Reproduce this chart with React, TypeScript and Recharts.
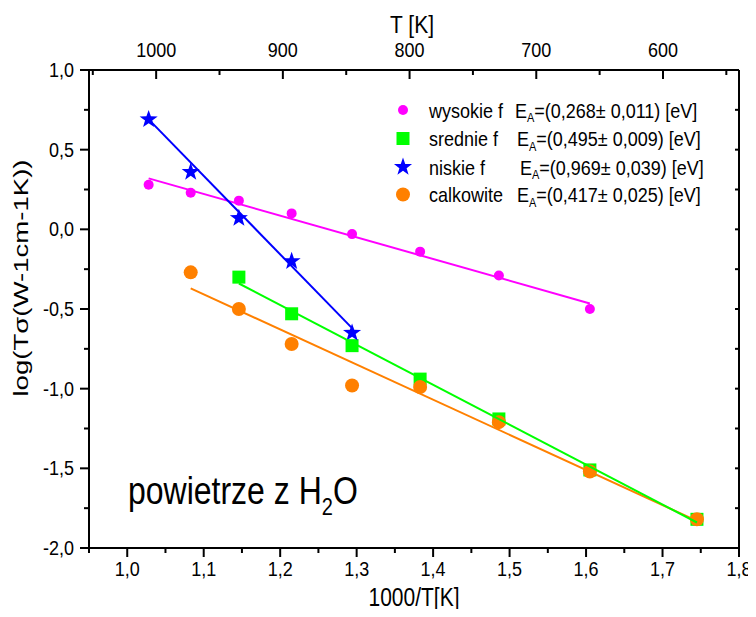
import { ScatterChart, Scatter, XAxis, YAxis, Customized } from 'recharts';

// 1000/T for the measured temperatures
const invT = [1.028, 1.083, 1.146, 1.215, 1.294, 1.383, 1.486, 1.605, 1.745];

// log(T*sigma) per frequency range
const wysokie = [0.28, 0.23, 0.18, 0.1, -0.03, -0.14, -0.29, -0.5]; // invT[0..7]
const niskie = [0.69, 0.36, 0.07, -0.2, -0.65]; // invT[0..4]
const srednie = [-0.3, -0.53, -0.73, -0.94, -1.19, -1.51, -1.82]; // invT[2..8]
const calkowite = [-0.27, -0.5, -0.72, -0.98, -0.99, -1.21, -1.52, -1.82]; // invT[1..8]

// fitted lines, start and end
const wysokieFitX = [1.028, 1.605];
const wysokieFitY = [0.32, -0.465];
const niskieFitX = [1.028, 1.294];
const niskieFitY = [0.69, -0.62];
const srednieFitX = [1.146, 1.745];
const srednieFitY = [-0.34, -1.84];
const calkowiteFitX = [1.083, 1.745];
const calkowiteFitY = [-0.37, -1.83];

const xTicks = [0.95, 1.0, 1.05, 1.1, 1.15, 1.2, 1.25, 1.3, 1.35, 1.4, 1.45, 1.5, 1.55, 1.6, 1.65, 1.7, 1.75, 1.8];
const yTicks = [-2, -1.75, -1.5, -1.25, -1, -0.75, -0.5, -0.25, 0, 0.25, 0.5, 0.75, 1];
// top axis (T in K) runs right-to-left, kept as negative numbers on the scale
const tTicks = [1050, 1000, 950, 900, 850, 800, 750, 700, 650, 600, 550];
const tDomain = [1053, 540];

const legendNames = ['wysokie f', 'srednie f', 'niskie f', 'calkowite'];
const legendEnergy = ['=(0,268± 0,011) [eV]', '=(0,495± 0,009) [eV]', '=(0,969± 0,039) [eV]', '=(0,417± 0,025) [eV]'];

const MAGENTA = '#ff00ff';
const GREEN = '#00ff00';
const BLUE = '#0000ff';
const ORANGE = '#ff8000';
const FONT = "'Liberation Sans', Arial, sans-serif";

const zip = (xs: number[], ys: number[]) => ys.map((y, i) => ({ x: xs[i], y }));

const wysokieData = zip(invT.slice(0, 8), wysokie);
const niskieData = zip(invT.slice(0, 5), niskie);
const srednieData = zip(invT.slice(2), srednie);
const calkowiteData = zip(invT.slice(1), calkowite);
// empty-looking series so the top axis has something bound to it
const tAxisData = tTicks.map((t) => ({ x: -t, y: 0 }));

const isMult = (v: number, step: number) => Math.abs(v / step - Math.round(v / step)) < 1e-6;
const fmt = (v: number) => v.toFixed(1).replace('.', ',');

function SText({ x, y, size, anchor = 'start', sy = 1.15, children }: any) {
  return (
    <text
      transform={`translate(${x},${y}) scale(1,${sy})`}
      x={0}
      y={0}
      textAnchor={anchor}
      fontSize={size}
      fontFamily={FONT}
      fill="#000"
    >
      {children}
    </text>
  );
}

function starPoints(cx: number, cy: number, R: number) {
  const r = R * 0.4;
  const pts: string[] = [];
  for (let i = 0; i < 10; i++) {
    const rad = i % 2 === 0 ? R : r;
    const a = -Math.PI / 2 + (i * Math.PI) / 5;
    pts.push(`${cx + rad * Math.cos(a)},${cy + rad * Math.sin(a)}`);
  }
  return pts.join(' ');
}

const SmallDot = (p: any) => <circle cx={p.cx} cy={p.cy} r={5} fill={MAGENTA} />;
const BigDot = (p: any) => <circle cx={p.cx} cy={p.cy} r={7} fill={ORANGE} />;
const Square = (p: any) => <rect x={p.cx - 6.5} y={p.cy - 6.5} width={13} height={13} fill={GREEN} />;
const Star = (p: any) => <polygon points={starPoints(p.cx, p.cy, 9.5)} fill={BLUE} />;
const NoShape = () => <g />;

const BottomTick = ({ x, y, payload }: any) => {
  const major = isMult(payload.value, 0.1);
  return (
    <g>
      <line x1={x} x2={x} y1={y} y2={y + (major ? 9 : 5)} stroke="#000" strokeWidth={2} />
      {major && payload.value > 0.96 && (
        <SText x={x} y={y + 28} size={18} anchor="middle">{fmt(payload.value)}</SText>
      )}
    </g>
  );
};

const TopTick = ({ x, y, payload }: any) => {
  const t = -payload.value;
  const major = isMult(t, 100);
  return (
    <g>
      <line x1={x} x2={x} y1={y} y2={y + (major ? 9 : 5)} stroke="#000" strokeWidth={2} />
      {major && <SText x={x} y={y - 13} size={18} anchor="middle">{t}</SText>}
    </g>
  );
};

const LeftTick = ({ x, y, payload }: any) => {
  const major = isMult(payload.value, 0.5);
  return (
    <g>
      <line x1={x - (major ? 9 : 5)} x2={x} y1={y} y2={y} stroke="#000" strokeWidth={2} />
      {major && <SText x={x - 15} y={y + 7} size={18} anchor="end">{fmt(payload.value)}</SText>}
    </g>
  );
};

const RightTick = ({ x, y }: any) => (
  <line x1={x - 4} x2={x} y1={y} y2={y} stroke="#000" strokeWidth={2} />
);

const legendMarkers = [
  (cx: number, cy: number) => <circle cx={cx} cy={cy} r={5} fill={MAGENTA} />,
  (cx: number, cy: number) => <rect x={cx - 6.5} y={cy - 6.5} width={13} height={13} fill={GREEN} />,
  (cx: number, cy: number) => <polygon points={starPoints(cx, cy, 9.5)} fill={BLUE} />,
  (cx: number, cy: number) => <circle cx={cx} cy={cy} r={7} fill={ORANGE} />,
];
const legendEx = [507, 509, 512, 509];
const legendBase = [109.5, 138, 166.5, 194];

const Overlay = () => (
  <g>
    {legendNames.map((name, i) => (
      <g key={name}>
        {legendMarkers[i](395, legendBase[i] - 7.5)}
        <SText x={421} y={legendBase[i]} size={18}>{name}</SText>
        <SText x={legendEx[i]} y={legendBase[i]} size={18}>
          E<tspan fontSize={11} dy={4}>A</tspan>
          <tspan dy={-4}>{legendEnergy[i]}</tspan>
        </SText>
      </g>
    ))}
    <SText x={120} y={496} size={32} sy={1.2}>
      powietrze z H<tspan fontSize={20} dy={9}>2</tspan>
      <tspan dy={-9}>O</tspan>
    </SText>
    <SText x={404} y={25} size={21} anchor="middle" sy={1.1}>T [K]</SText>
    <SText x={406} y={598} size={21} anchor="middle" sy={1.2}>1000/T[K]</SText>
    <text
      transform="translate(20,270) rotate(-90)"
      textAnchor="middle"
      fontSize={21}
      fontFamily={FONT}
      textLength={237}
      lengthAdjust="spacingAndGlyphs"
      fill="#000"
    >
      log(Tσ(W-1cm-1K))
    </text>
  </g>
);

const axisLine = { stroke: '#000', strokeWidth: 2 };

export default function App() {
  return (
    <div style={{ width: 748, height: 601 }}>
      <ScatterChart width={748} height={609} margin={{ top: 0, right: 0, bottom: 0, left: 0 }}>
        <XAxis
          xAxisId="b"
          type="number"
          dataKey="x"
          orientation="bottom"
          domain={[0.95, 1.8]}
          allowDataOverflow
          ticks={xTicks}
          interval={0}
          height={69}
          tickSize={0}
          tickMargin={0}
          tickLine={false}
          axisLine={axisLine}
          tick={<BottomTick />}
        />
        <XAxis
          xAxisId="t"
          type="number"
          dataKey="x"
          orientation="top"
          domain={tDomain.map((t) => -t)}
          allowDataOverflow
          ticks={tTicks.map((t) => -t)}
          interval={0}
          height={62}
          tickSize={0}
          tickMargin={0}
          tickLine={false}
          axisLine={axisLine}
          tick={<TopTick />}
        />
        <YAxis
          yAxisId="l"
          type="number"
          dataKey="y"
          domain={[-2, 1]}
          allowDataOverflow
          ticks={yTicks}
          interval={0}
          width={81}
          tickSize={0}
          tickMargin={0}
          tickLine={false}
          axisLine={axisLine}
          tick={<LeftTick />}
        />
        <YAxis
          yAxisId="r"
          type="number"
          dataKey="y"
          orientation="right"
          domain={[-2, 1]}
          allowDataOverflow
          ticks={yTicks}
          interval={0}
          width={17}
          tickSize={0}
          tickMargin={0}
          tickLine={false}
          axisLine={axisLine}
          tick={<RightTick />}
        />
        <Scatter xAxisId="t" yAxisId="r" data={tAxisData} shape={NoShape} isAnimationActive={false} />
        <Scatter xAxisId="b" yAxisId="l" data={wysokieData} shape={SmallDot} isAnimationActive={false} />
        <Scatter xAxisId="b" yAxisId="l" data={srednieData} shape={Square} isAnimationActive={false} />
        <Scatter xAxisId="b" yAxisId="l" data={calkowiteData} shape={BigDot} isAnimationActive={false} />
        <Scatter xAxisId="b" yAxisId="l" data={niskieData} shape={Star} isAnimationActive={false} />
        <Scatter
          xAxisId="b"
          yAxisId="l"
          data={zip(wysokieFitX, wysokieFitY)}
          shape={NoShape}
          line={{ stroke: MAGENTA, strokeWidth: 2 }}
          isAnimationActive={false}
        />
        <Scatter
          xAxisId="b"
          yAxisId="l"
          data={zip(calkowiteFitX, calkowiteFitY)}
          shape={NoShape}
          line={{ stroke: ORANGE, strokeWidth: 2 }}
          isAnimationActive={false}
        />
        <Scatter
          xAxisId="b"
          yAxisId="l"
          data={zip(srednieFitX, srednieFitY)}
          shape={NoShape}
          line={{ stroke: GREEN, strokeWidth: 2 }}
          isAnimationActive={false}
        />
        <Scatter
          xAxisId="b"
          yAxisId="l"
          data={zip(niskieFitX, niskieFitY)}
          shape={NoShape}
          line={{ stroke: BLUE, strokeWidth: 2 }}
          isAnimationActive={false}
        />
        <Customized component={Overlay} />
      </ScatterChart>
    </div>
  );
}
